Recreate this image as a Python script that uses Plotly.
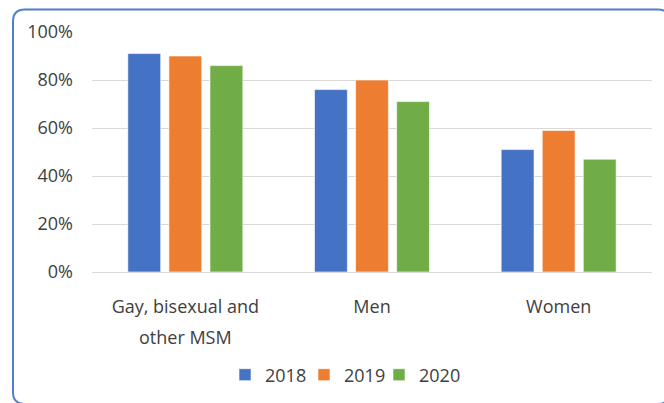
import plotly.graph_objects as go

# Data
categories = ['Gay, bisexual and other MSM', 'Men', 'Women']
label_line1 = ['Gay, bisexual and', 'Men', 'Women']
label_line2 = ['other MSM', '', '']
years = ['2018', '2019', '2020']
values_2018 = [0.91, 0.76, 0.51]
values_2019 = [0.90, 0.80, 0.59]
values_2020 = [0.86, 0.71, 0.47]
y_tick_values = [0, 0.2, 0.4, 0.6, 0.8, 1.0]
y_tick_labels = ['0%', '20%', '40%', '60%', '80%', '100%']

series = [values_2018, values_2019, values_2020]
colors = ['#4472C4', '#ED7D31', '#70AD47']
legend_ids = ['legend', 'legend2', 'legend3']
legend_left_px = [225, 304, 379]  # one legend per year, like the spaced Excel legend

TEXT_COLOR = '#404040'
FONT = 'Open Sans, Arial, sans-serif'
FONT_SIZE = 18

fig = go.Figure()

for year, vals, color, lg in zip(years, series, colors, legend_ids):
    fig.add_trace(go.Bar(
        name=year,
        x=categories,
        y=vals,
        legend=lg,
        marker=dict(color=color, line=dict(color='rgba(255,255,255,0.6)', width=1)),
    ))

# empty helper trace so the second label axis gets drawn
fig.add_trace(go.Scatter(
    x=list(range(len(categories))),
    y=[None] * len(categories),
    xaxis='x2',
    mode='markers',
    showlegend=False,
    hoverinfo='skip',
))

# rounded frame around the chart (pixel coords converted to paper units)
plot_l, plot_r, plot_t, plot_b = 92, 652, 32, 272
pw, ph = plot_r - plot_l, plot_b - plot_t


def px(x):
    return (x - plot_l) / pw


def py(y):
    return (plot_b - y) / ph


left, top, right, bottom, r = 13, 9.5, 670, 404, 12
frame = (
    f'M {px(left)},{py(bottom - r)} L {px(left)},{py(top + r)} '
    f'Q {px(left)},{py(top)} {px(left + r)},{py(top)} '
    f'L {px(right - r)},{py(top)} '
    f'Q {px(right)},{py(top)} {px(right)},{py(top + r)} '
    f'L {px(right)},{py(bottom - r)} '
    f'Q {px(right)},{py(bottom)} {px(right - r)},{py(bottom)} '
    f'L {px(left + r)},{py(bottom)} '
    f'Q {px(left)},{py(bottom)} {px(left)},{py(bottom - r)} Z'
)

legend_style = dict(
    orientation='h',
    xanchor='left',
    y=py(375),
    yanchor='middle',
    font=dict(size=FONT_SIZE, color=TEXT_COLOR),
    itemwidth=30,
    bgcolor='rgba(0,0,0,0)',
)

fig.update_layout(
    width=664,
    height=403,
    margin=dict(l=plot_l, r=664 - plot_r, t=plot_t, b=403 - plot_b, autoexpand=False),
    barmode='group',
    bargap=0.34,
    bargroupgap=0.2,
    plot_bgcolor='white',
    paper_bgcolor='white',
    font=dict(family=FONT, size=FONT_SIZE, color=TEXT_COLOR),
    showlegend=True,
    xaxis=dict(
        showgrid=False,
        showline=False,
        ticks='',
        tickvals=categories,
        ticktext=label_line1,
        ticklabelstandoff=22,
        tickfont=dict(size=FONT_SIZE, color=TEXT_COLOR),
    ),
    # second line of the wrapped category labels
    xaxis2=dict(
        overlaying='x',
        anchor='y',
        side='bottom',
        range=[-0.5, len(categories) - 0.5],
        tickvals=list(range(len(categories))),
        ticktext=label_line2,
        showgrid=False,
        showline=False,
        zeroline=False,
        ticks='',
        ticklabelstandoff=53,
        tickfont=dict(size=FONT_SIZE, color=TEXT_COLOR),
    ),
    yaxis=dict(
        range=[0, 1.0],
        tickvals=y_tick_values,
        ticktext=y_tick_labels,
        showgrid=True,
        gridcolor='#D9D9D9',
        gridwidth=1,
        zeroline=True,
        zerolinecolor='#D9D9D9',
        zerolinewidth=1,
        showline=False,
        ticks='',
        ticklabelstandoff=18,
        tickfont=dict(size=FONT_SIZE, color=TEXT_COLOR),
    ),
    shapes=[dict(
        type='path',
        xref='paper',
        yref='paper',
        path=frame,
        line=dict(color='#4F7FCF', width=2),
        layer='above',
    )],
)

for lg, lx in zip(legend_ids, legend_left_px):
    fig.update_layout({lg: dict(legend_style, x=px(lx))})

fig.write_html(
    "out.html",
    config={'displayModeBar': False},
    post_script="document.body.style.margin = '0';",
)
